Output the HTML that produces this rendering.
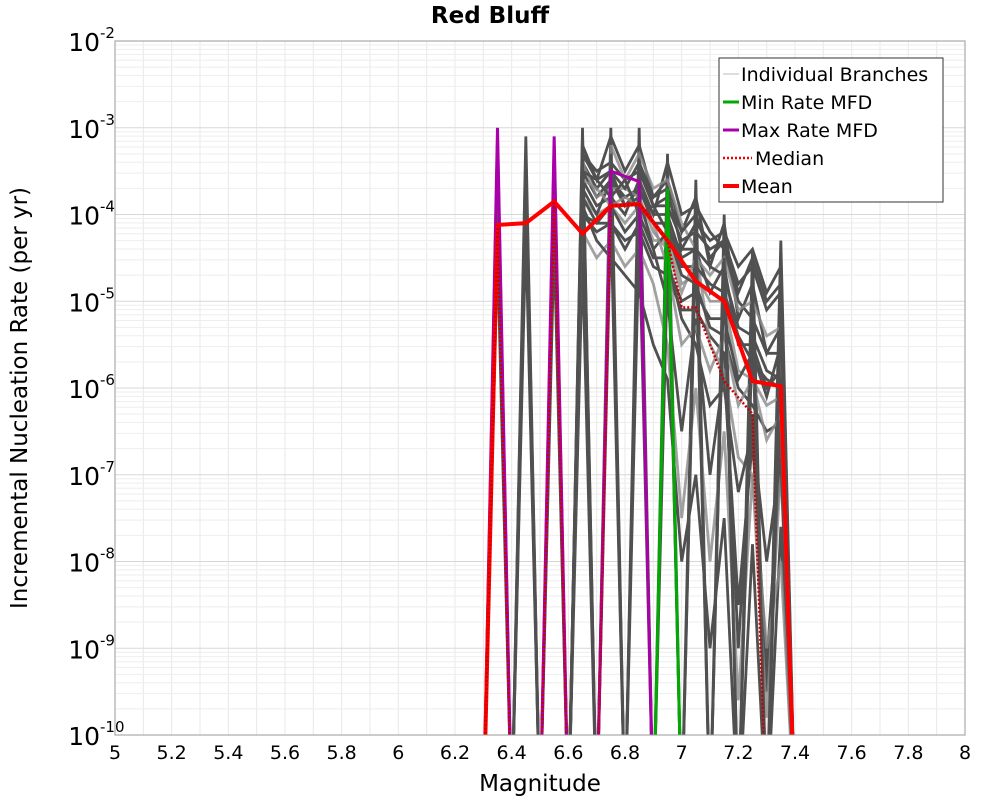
<!DOCTYPE html>
<html><head><meta charset="utf-8"><style>
body{margin:0;background:#fff;font-family:"DejaVu Sans","Liberation Sans",sans-serif;}
svg text{font-family:"DejaVu Sans","Liberation Sans",sans-serif;}
</style></head><body>
<svg id="chart" width="1000" height="800" xmlns="http://www.w3.org/2000/svg">
<text x="490" y="23" text-anchor="middle" font-size="23" font-weight="bold">Red Bluff</text>
<g id="grid"></g>
<g id="marks"></g>
<rect x="115" y="41" width="850" height="694" fill="none" stroke="#999" stroke-width="1"/>
<g id="axes"></g>
<text x="540" y="791" text-anchor="middle" font-size="23">Magnitude</text>
<text transform="translate(27,398) rotate(-90)" text-anchor="middle" font-size="23">Incremental Nucleation Rate (per yr)</text>
<g>
<rect x="719" y="58" width="224" height="144" fill="#fff" stroke="#333" stroke-width="1"/>
<line x1="723" y1="74" x2="739" y2="74" stroke="#bbb" stroke-width="1"/>
<text x="741" y="81" font-size="19">Individual Branches</text>
<line x1="723" y1="102" x2="739" y2="102" stroke="#00aa00" stroke-width="3"/>
<text x="741" y="109" font-size="19">Min Rate MFD</text>
<line x1="723" y1="130" x2="739" y2="130" stroke="#aa00aa" stroke-width="3"/>
<text x="741" y="137" font-size="19">Max Rate MFD</text>
<line x1="723" y1="158" x2="752" y2="158" stroke="#e00" stroke-width="2.5" stroke-dasharray="2,2"/>
<text x="755" y="165" font-size="19">Median</text>
<line x1="723" y1="186" x2="739" y2="186" stroke="#f00" stroke-width="4"/>
<text x="741" y="193" font-size="19">Mean</text>
</g>
</svg>
<script>
const xTicks=[5,5.2,5.4,5.6,5.8,6,6.2,6.4,6.6,6.8,7,7.2,7.4,7.6,7.8,8];
const yTickExp=[-2,-3,-4,-5,-6,-7,-8,-9,-10];
const mags=[6.30,6.35,6.40,6.45,6.50,6.55,6.60,6.65,6.70,6.75,6.80,6.85,6.90,6.95,7.00,7.05,7.10,7.15,7.20,7.25,7.30,7.35,7.40];
// log10 rates per branch
const branches=[
[-11,-3.1,-11,-3.1,-11,-3.2,-11,-3.0,-11,-3.0,-11,-3.0,-11,-3.3,-11,-3.6,-11,-4.0,-11,-4.4,-11,-4.3,-11],
[-11,-3.4,-11,-3.3,-11,-3.4,-11,-3.2,-3.6,-3.1,-3.5,-3.2,-3.8,-3.6,-4.2,-3.8,-4.6,-4.1,-5.2,-4.8,-5.6,-5.3,-11],
[-11,-4.0,-11,-3.8,-11,-3.7,-11,-3.5,-3.8,-3.6,-3.8,-3.7,-4.0,-4.0,-4.5,-4.4,-4.9,-4.6,-5.5,-5.5,-6.0,-5.8,-11],
[-11,-3.8,-11,-3.6,-11,-3.9,-11,-3.8,-4.0,-3.9,-4.1,-3.9,-4.3,-4.3,-4.8,-4.7,-5.0,-5.0,-5.8,-5.9,-6.2,-6.1,-11],
[-11,-4.4,-11,-4.2,-11,-4.1,-11,-4.0,-4.2,-4.1,-4.3,-4.2,-4.6,-4.7,-5.1,-5.1,-5.4,-5.6,-9.0,-6.3,-9.5,-6.4,-11],
[-11,-11,-11,-11,-11,-3.6,-11,-3.4,-3.7,-3.5,-3.9,-3.8,-4.4,-5.0,-6.5,-5.2,-7.0,-5.8,-8.5,-6.6,-9.2,-6.8,-11],
[-11,-11,-11,-11,-11,-11,-11,-3.3,-3.5,-3.4,-3.6,-3.5,-3.9,-3.9,-4.3,-4.2,-4.4,-4.3,-4.9,-4.5,-5.0,-4.8,-11],
[-11,-11,-11,-11,-11,-11,-11,-4.2,-4.5,-4.3,-4.6,-4.4,-4.8,-5.5,-7.5,-6.0,-8.0,-6.5,-9.6,-7.0,-9.8,-6.9,-11],
[-11,-3.9,-11,-4.0,-11,-4.3,-11,-4.5,-11,-4.0,-11,-4.2,-11,-4.6,-5.0,-4.9,-5.2,-5.2,-5.9,-5.6,-6.1,-5.5,-11],
[-11,-11,-11,-11,-11,-11,-11,-3.9,-4.3,-4.5,-4.7,-4.9,-5.5,-5.9,-8.0,-7.0,-9.0,-7.5,-11,-7.8,-11,-7.6,-11],
[-11,-11,-11,-11,-11,-11,-11,-3.6,-3.9,-3.8,-4.0,-3.6,-4.0,-3.4,-4.0,-3.9,-4.2,-4.4,-5.0,-5.2,-5.6,-5.6,-11],
[-11,-11,-11,-11,-11,-11,-11,-11,-11,-3.2,-3.6,-3.3,-3.7,-3.6,-4.1,-4.4,-5.5,-5.8,-6.8,-7.0,-9.0,-8.0,-11],
[-11,-11,-11,-11,-11,-11,-11,-3.1,-11,-3.3,-11,-3.4,-3.9,-3.8,-4.2,-4.0,-4.5,-4.3,-4.8,-4.6,-5.1,-4.9,-11],
[-11,-11,-11,-11,-11,-11,-11,-3.5,-11,-3.7,-11,-3.5,-11,-4.0,-11,-4.3,-11,-4.6,-11,-5.3,-11,-5.7,-11],
[-11,-11,-11,-11,-11,-11,-11,-3.7,-4.0,-3.6,-3.9,-3.7,-4.1,-4.1,-4.6,-4.6,-4.8,-4.9,-5.4,-5.7,-5.9,-6.0,-11],
[-11,-11,-11,-11,-11,-11,-11,-3.4,-3.8,-3.7,-3.7,-3.8,-4.2,-4.4,-4.9,-4.5,-4.7,-4.5,-5.1,-5.0,-5.4,-5.3,-11],
[-11,-11,-11,-11,-11,-11,-11,-4.0,-4.1,-3.9,-4.2,-4.0,-4.4,-4.2,-4.7,-4.8,-5.3,-5.4,-6.0,-6.2,-6.5,-6.4,-11],
[-11,-11,-11,-11,-11,-11,-11,-3.3,-3.6,-3.5,-3.7,-3.4,-3.8,-3.7,-4.4,-4.1,-4.3,-4.2,-4.6,-4.4,-4.9,-4.6,-11],
[-11,-11,-11,-11,-11,-11,-11,-3.8,-4.1,-4.1,-4.4,-4.1,-4.5,-4.5,-5.2,-5.5,-6.2,-6.0,-7.2,-6.5,-8.0,-6.8,-11],
[-11,-11,-11,-11,-11,-11,-11,-3.6,-3.7,-3.9,-3.8,-3.9,-4.1,-4.6,-5.5,-5.3,-5.8,-5.4,-6.2,-5.9,-6.6,-6.3,-11],
[-11,-3.3,-11,-3.5,-11,-3.5,-11,-3.4,-11,-3.5,-11,-3.6,-11,-3.9,-11,-4.2,-11,-4.5,-11,-4.9,-11,-5.1,-11],
[-11,-11,-11,-11,-11,-11,-11,-3.5,-3.6,-3.8,-3.6,-4.0,-3.9,-4.2,-4.4,-4.4,-4.6,-4.7,-5.3,-5.4,-5.8,-5.9,-11]
];
const minMags=[6.90,6.95,7.00];
const minVals=[-11,-3.7,-11];
const maxMags=[6.30,6.35,6.40,6.50,6.55,6.60,6.70,6.75,6.85,6.90];
const maxVals=[-11,-3.0,-11,-11,-3.1,-11,-11,-3.5,-3.62,-11];
const medMags=[6.30,6.35,6.40,6.50,6.55,6.60,6.70,6.75,6.85,6.95,7.00,7.05,7.15,7.25,7.30];
const medVals=[-11,-4.12,-11,-11,-3.85,-11,-11,-3.9,-3.88,-4.3,-5.07,-5.07,-5.92,-6.3,-11];
const meanMags=[6.30,6.35,6.45,6.55,6.65,6.75,6.85,6.95,7.05,7.15,7.25,7.35,7.40];
const meanVals=[-11,-4.12,-4.1,-3.85,-4.22,-3.9,-3.88,-4.3,-4.77,-5.0,-5.92,-5.98,-11];

const X=m=>115+(m-5)/3*850;
const Y=l=>41+(-2-l)*86.75;
const NS="http://www.w3.org/2000/svg";
const svg=document.getElementById('chart');
const grid=document.getElementById('grid'),marks=document.getElementById('marks'),axes=document.getElementById('axes');
function mk(t,a,p){const e=document.createElementNS(NS,t);for(const k in a)e.setAttribute(k,a[k]);p.appendChild(e);return e;}
const defs=mk('defs',{},svg);const cp=mk('clipPath',{id:'pc'},defs);mk('rect',{x:115,y:41,width:850,height:694},cp);
marks.setAttribute('clip-path','url(#pc)');
for(let m=5.1;m<8;m+=0.1){const g=mk('line',{x1:X(m),x2:X(m),y1:41,y2:735,stroke:'#e8e8e8'},grid);

}
for(let d=-10;d<-2;d++){for(let k=1;k<10;k++){const l=d+Math.log10(k);const g=mk('line',{x1:115,x2:965,y1:Y(l),y2:Y(l),stroke:k==1?'#d8d8d8':'#eeeeee'},grid);

}}
function line(ms,vs,attrs,name){const pts=ms.map((m,i)=>X(m)+','+Y(vs[i])).join(' ');const e=mk('polyline',Object.assign({points:pts,fill:'none','stroke-linejoin':'miter'},attrs),marks);

}
branches.forEach((b,i)=>{line(mags,b,{stroke:i%4==3?'#8a8a8a':'#505050','stroke-width':2.8,'stroke-opacity':i%4==3?0.8:1},'branch-line');});
line(minMags,minVals,{stroke:'#00aa00','stroke-width':3},'min-rate-line');
line(maxMags,maxVals,{stroke:'#aa00aa','stroke-width':3},'max-rate-line');
line(meanMags,meanVals,{stroke:'#ff0000','stroke-width':4},'mean-line');
line(medMags,medVals,{stroke:'#cc0000','stroke-width':2.5,'stroke-dasharray':'2,2'},'median-line');
xTicks.forEach(t=>{const e=mk('text',{x:X(t),y:759,'text-anchor':'middle','font-size':19},axes);e.textContent=String(t);

});
yTickExp.forEach(p=>{const e=mk('text',{x:100,y:Y(p)+10,'text-anchor':'end','font-size':25},axes);e.textContent='10';


const s=mk('text',{x:100,y:Y(p)-3,'font-size':15},axes);s.textContent=String(p);

});
</script>
</body></html>
